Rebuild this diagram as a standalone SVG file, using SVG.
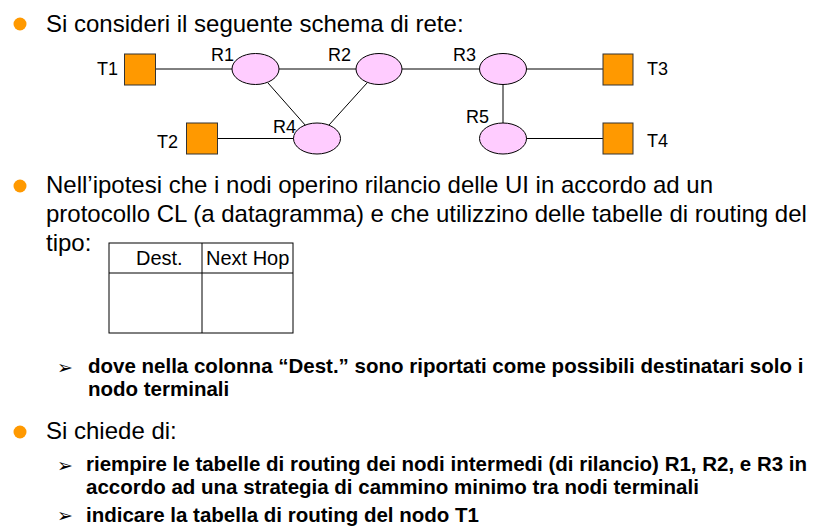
<svg xmlns="http://www.w3.org/2000/svg" width="827" height="528" viewBox="0 0 827 528">
<style>
.t{font-family:"Liberation Sans",Arial,sans-serif;fill:#000}
.main{font-size:24px}
.sub{font-size:20.5px;font-weight:bold}
.lbl{font-size:18px}
.tab{font-size:20px}
.arr{font-family:"DejaVu Sans",sans-serif;font-size:19px;fill:#000}
.dot{fill:#FF9900}
.term{fill:#FF9900;stroke:#333;stroke-width:1}
.rtr{fill:#FFCCFF;stroke:#000;stroke-width:1}
.ln{stroke:#000;stroke-width:1;fill:none}
</style>
<rect width="827" height="528" fill="#fff"/>
<g id="bullets">
<circle class="dot" cx="20" cy="24" r="6.5"/>
<circle class="dot" cx="20" cy="186" r="6.5"/>
<circle class="dot" cx="20" cy="432" r="6.5"/>
</g>
<g id="text">
<text class="t main" x="46" y="32">Si consideri il seguente schema di rete:</text>
<text class="t main" x="46" y="193">Nell’ipotesi che i nodi operino rilancio delle UI in accordo ad un</text>
<text class="t main" x="46" y="222">protocollo CL (a datagramma) e che utilizzino delle tabelle di routing del</text>
<text class="t main" x="46" y="251">tipo:</text>
<text class="arr" x="57" y="374">➢</text>
<text class="t sub" x="88" y="373">dove nella colonna “Dest.” sono riportati come possibili destinatari solo i</text>
<text class="t sub" x="88" y="396">nodo terminali</text>
<text class="t main" x="46" y="439">Si chiede di:</text>
<text class="arr" x="57" y="472">➢</text>
<text class="t sub" x="86" y="471">riempire le tabelle di routing dei nodi intermedi (di rilancio) R1, R2, e R3 in</text>
<text class="t sub" x="86" y="494">accordo ad una strategia di cammino minimo tra nodi terminali</text>
<text class="arr" x="57" y="522">➢</text>
<text class="t sub" x="86" y="522">indicare la tabella di routing del nodo T1</text>
</g>
<g id="table">
<rect x="109" y="243" width="184" height="90" fill="none" stroke="#000" stroke-width="1"/>
<line class="ln" x1="109" y1="273" x2="293" y2="273"/>
<line class="ln" x1="202" y1="243" x2="202" y2="333"/>
<text class="t tab" x="136" y="265">Dest.</text>
<text class="t tab" x="206" y="265">Next Hop</text>
</g>
<g id="connectors">
<line class="ln" x1="156" y1="69" x2="232" y2="69"/>
<line class="ln" x1="279" y1="69" x2="356" y2="69"/>
<line class="ln" x1="402" y1="69" x2="480" y2="69"/>
<line class="ln" x1="526" y1="69" x2="603" y2="69"/>
<line class="ln" x1="268" y1="83" x2="306" y2="126"/>
<line class="ln" x1="367" y1="83" x2="329" y2="125"/>
<line class="ln" x1="217" y1="138.5" x2="294" y2="138.5"/>
<line class="ln" x1="503" y1="84" x2="503" y2="123" stroke-width="2"/>
<line class="ln" x1="526" y1="138.5" x2="603" y2="138.5"/>
</g>
<g id="T1"><rect class="term" x="124.5" y="54" width="31" height="31"/><text class="t lbl" x="97" y="75">T1</text></g>
<g id="T2"><rect class="term" x="186.5" y="123" width="31" height="31"/><text class="t lbl" x="157" y="148">T2</text></g>
<g id="T3"><rect class="term" x="603" y="54" width="30" height="31"/><text class="t lbl" x="647" y="75">T3</text></g>
<g id="T4"><rect class="term" x="603" y="123" width="30" height="31"/><text class="t lbl" x="647" y="147">T4</text></g>
<g id="R1"><ellipse class="rtr" cx="255.5" cy="69" rx="23.5" ry="15.5"/><text class="t lbl" x="211" y="61">R1</text></g>
<g id="R2"><ellipse class="rtr" cx="379" cy="69" rx="23" ry="15.5"/><text class="t lbl" x="328" y="61">R2</text></g>
<g id="R3"><ellipse class="rtr" cx="503" cy="69" rx="23.5" ry="15.5"/><text class="t lbl" x="453" y="61">R3</text></g>
<g id="R4"><ellipse class="rtr" cx="317" cy="138.5" rx="23.5" ry="15.5"/><text class="t lbl" x="273" y="133">R4</text></g>
<g id="R5"><ellipse class="rtr" cx="503" cy="138.5" rx="23.5" ry="15.5"/><text class="t lbl" x="466" y="123">R5</text></g>
</svg>
